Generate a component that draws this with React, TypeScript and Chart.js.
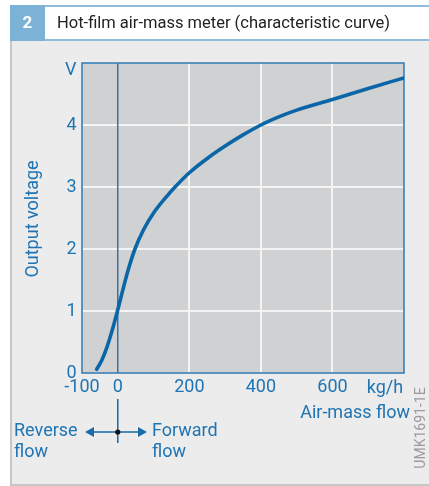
import React, { useEffect, useRef } from 'react';
import { Chart, registerables } from 'chart.js';

Chart.register(...registerables);

const flowKgH = [-59, -45, -30, -15, 0, 15, 30, 48, 72, 100, 137, 160, 200, 250, 300, 350, 400, 450, 500, 600, 700, 800];
const voltageV = [0.06, 0.2, 0.42, 0.7, 1.02, 1.36, 1.68, 2.0, 2.31, 2.58, 2.85, 3.0, 3.23, 3.46, 3.66, 3.84, 4.0, 4.13, 4.24, 4.41, 4.59, 4.76];
const xTicks = [-100, 0, 200, 400, 600, 800];
const yTicks = [0, 1, 2, 3, 4, 5];
const xUnit = 'kg/h';
const yUnit = 'V';
const xTitle = 'Air-mass flow';
const yTitle = 'Output voltage';
const figNumber = '2';
const figTitle = 'Hot-film air-mass meter (characteristic curve)';
const reverseLabel = ['Reverse', 'flow'];
const forwardLabel = ['Forward', 'flow'];
const docCode = 'UMK1691-1E';

const W = 429;
const H = 486;
const FONT = 'Roboto';
const BLUE_TEXT = '#1f74b4';
const CURVE = '#0a66a6';
const FRAME = '#3a80b8';
const PANEL = '#ebeceb';
const PLOT_BG = '#d0d1d3';

const decorPlugin = {
  id: 'decor',
  beforeDraw(chart: any) {
    const ctx = chart.ctx;
    const a = chart.chartArea;
    ctx.save();
    ctx.fillStyle = '#ffffff';
    ctx.fillRect(0, 0, W, H);
    ctx.fillStyle = PANEL;
    ctx.fillRect(10, 41, W - 10, H - 41);
    ctx.fillStyle = '#c6c7c7';
    ctx.fillRect(10, 41, 2, H - 41);
    ctx.fillRect(10, 484, W - 10, 2);
    ctx.fillStyle = '#8fbddc';
    ctx.fillRect(10, 5, W - 10, 2);
    ctx.fillRect(10, 39, W - 10, 2);
    ctx.fillStyle = '#7db2d7';
    ctx.fillRect(10, 5, 35, 36);
    ctx.fillStyle = '#ffffff';
    ctx.font = `bold 17px ${FONT}`;
    ctx.textAlign = 'center';
    ctx.textBaseline = 'middle';
    ctx.fillText(figNumber, 27.5, 24);
    ctx.fillStyle = '#222222';
    ctx.font = `16.5px ${FONT}`;
    ctx.textAlign = 'left';
    ctx.fillText(figTitle, 57, 24);
    ctx.fillStyle = PLOT_BG;
    ctx.fillRect(a.left, a.top, a.right - a.left, a.bottom - a.top);
    ctx.restore();
  },
  beforeDatasetsDraw(chart: any) {
    const ctx = chart.ctx;
    const a = chart.chartArea;
    const xs = chart.scales.x;
    ctx.save();
    const x0 = xs.getPixelForValue(0);
    ctx.strokeStyle = '#1f64a0';
    ctx.lineWidth = 1.3;
    ctx.beginPath();
    ctx.moveTo(x0, a.top);
    ctx.lineTo(x0, a.bottom);
    ctx.stroke();
    ctx.strokeStyle = FRAME;
    ctx.lineWidth = 1.6;
    ctx.strokeRect(a.left, a.top, a.right - a.left, a.bottom - a.top);
    ctx.restore();
  },
  afterDraw(chart: any) {
    const ctx = chart.ctx;
    const xs = chart.scales.x;
    const ys = chart.scales.y;
    ctx.save();
    ctx.fillStyle = BLUE_TEXT;
    ctx.font = `18px ${FONT}`;
    ctx.textBaseline = 'middle';
    ctx.textAlign = 'right';
    ctx.fillText(yUnit, ys.left + ys.width - 5.5, ys.getPixelForValue(5) + 7.5);
    ctx.textAlign = 'center';
    ctx.fillText(xUnit, xs.getPixelForValue(800) - 19, 388);
    ctx.textAlign = 'right';
    ctx.fillText(xTitle, 410, 413);
    ctx.save();
    ctx.translate(33, 219);
    ctx.rotate(-Math.PI / 2);
    ctx.textAlign = 'center';
    ctx.fillText(yTitle, 0, 0);
    ctx.restore();
    const x0 = xs.getPixelForValue(0);
    const yA = 432;
    ctx.strokeStyle = '#1a6aa6';
    ctx.fillStyle = '#1a6aa6';
    ctx.lineWidth = 1.5;
    ctx.beginPath();
    ctx.moveTo(x0, 399);
    ctx.lineTo(x0, 443);
    ctx.moveTo(92, yA);
    ctx.lineTo(140, yA);
    ctx.stroke();
    ctx.beginPath();
    ctx.moveTo(85, yA);
    ctx.lineTo(94, yA - 5);
    ctx.lineTo(94, yA + 5);
    ctx.closePath();
    ctx.fill();
    ctx.beginPath();
    ctx.moveTo(147, yA);
    ctx.lineTo(138, yA - 5);
    ctx.lineTo(138, yA + 5);
    ctx.closePath();
    ctx.fill();
    ctx.fillStyle = '#111111';
    ctx.beginPath();
    ctx.arc(x0, yA, 2.6, 0, Math.PI * 2);
    ctx.fill();
    ctx.fillStyle = BLUE_TEXT;
    ctx.textAlign = 'left';
    ctx.fillText(reverseLabel[0], 14, 431);
    ctx.fillText(reverseLabel[1], 14, 452);
    ctx.fillText(forwardLabel[0], 152, 431);
    ctx.fillText(forwardLabel[1], 152, 452);
    ctx.save();
    ctx.translate(421.5, 428);
    ctx.rotate(-Math.PI / 2);
    ctx.textAlign = 'center';
    ctx.fillStyle = '#9a9a9a';
    ctx.font = `14px ${FONT}`;
    ctx.fillText(docCode, 0, 0);
    ctx.restore();
    ctx.restore();
  },
};

export default function App() {
  const ref = useRef<HTMLCanvasElement | null>(null);
  useEffect(() => {
    if (!ref.current) return;
    const chart = new Chart(ref.current, {
      type: 'line',
      data: {
        datasets: [
          {
            data: flowKgH.map((x, i) => ({ x, y: voltageV[i] })),
            borderColor: CURVE,
            borderWidth: 3.6,
            pointRadius: 0,
            cubicInterpolationMode: 'monotone',
            borderCapStyle: 'round',
            fill: false,
          },
        ],
      },
      options: {
        animation: false,
        responsive: false,
        devicePixelRatio: 1,
        layout: { padding: { left: 0, right: 25, top: 63, bottom: 0 } },
        plugins: { legend: { display: false }, tooltip: { enabled: false }, title: { display: false } },
        scales: {
          x: {
            type: 'linear',
            min: -100,
            max: 800,
            afterBuildTicks: (s: any) => {
              s.ticks = xTicks.map((v) => ({ value: v }));
            },
            afterFit: (s: any) => {
              s.height = 113;
            },
            ticks: {
              autoSkip: false,
              maxRotation: 0,
              padding: 4,
              color: BLUE_TEXT,
              font: { family: FONT, size: 18 },
              callback: (v: any) => (v === 800 ? '' : String(v)),
            },
            grid: {
              drawTicks: false,
              lineWidth: 2,
              color: (c: any) => (c.tick && (c.tick.value === -100 || c.tick.value === 800 || c.tick.value === 0) ? 'rgba(0,0,0,0)' : '#f4f4f4'),
            },
            border: { display: false },
          },
          y: {
            type: 'linear',
            min: 0,
            max: 5,
            afterBuildTicks: (s: any) => {
              s.ticks = yTicks.map((v) => ({ value: v }));
            },
            afterFit: (s: any) => {
              s.width = 82;
            },
            ticks: {
              autoSkip: false,
              padding: 5.5,
              color: BLUE_TEXT,
              font: { family: FONT, size: 18 },
              callback: (v: any) => (v === 5 ? '' : String(v)),
            },
            grid: {
              drawTicks: false,
              lineWidth: 2,
              color: (c: any) => (c.tick && (c.tick.value === 0 || c.tick.value === 5) ? 'rgba(0,0,0,0)' : '#f4f4f4'),
            },
            border: { display: false },
          },
        },
      },
      plugins: [decorPlugin],
    } as any);
    return () => chart.destroy();
  }, []);
  return (
    <div style={{ position: 'absolute', left: 0, top: 0, width: W, height: H }}>
      <canvas ref={ref} width={W} height={H} style={{ display: 'block', width: W, height: H }} />
    </div>
  );
}
